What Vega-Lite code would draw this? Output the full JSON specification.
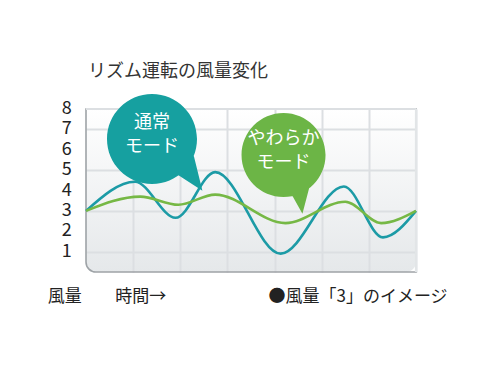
{
  "$schema": "https://vega.github.io/schema/vega-lite/v6.json",
  "width": 330,
  "height": 163,
  "autosize": "none",
  "padding": {"left": 86, "top": 109, "right": 74, "bottom": 96},
  "background": "white",
  "config": {
    "font": "Noto Sans CJK JP",
    "view": {
      "fill": {"gradient": "linear", "x1": 0, "y1": 0, "x2": 0, "y2": 1, "stops": [{"offset": 0, "color": "#ffffff"}, {"offset": 1, "color": "#e5e8ea"}]},
      "stroke": null,
      "cornerRadius": 10
    }
  },
  "title": {"text": "リズム運転の風量変化", "anchor": "start", "frame": "group", "fontSize": 18, "fontWeight": "normal", "color": "#333333", "offset": 13, "dx": 2},
  "datasets": {
    "curves": [
      {"mode": "通常", "t": 0, "v": 3},
      {"mode": "通常", "t": 1.04, "v": 4.43},
      {"mode": "通常", "t": 1.9, "v": 2.66},
      {"mode": "通常", "t": 2.74, "v": 4.9},
      {"mode": "通常", "t": 4.13, "v": 0.9},
      {"mode": "通常", "t": 5.47, "v": 4.2},
      {"mode": "通常", "t": 6.3, "v": 1.7},
      {"mode": "通常", "t": 7, "v": 3},
      {"mode": "やわらか", "t": 0, "v": 3},
      {"mode": "やわらか", "t": 1.15, "v": 3.7},
      {"mode": "やわらか", "t": 1.96, "v": 3.3},
      {"mode": "やわらか", "t": 2.74, "v": 3.8},
      {"mode": "やわらか", "t": 4.23, "v": 2.4},
      {"mode": "やわらか", "t": 5.5, "v": 3.45},
      {"mode": "やわらか", "t": 6.26, "v": 2.4},
      {"mode": "やわらか", "t": 7, "v": 3}
    ],
    "frame": [{"t0": 0, "t1": 7, "v0": 0, "v1": 8}],
    "levels": [
      {"t": -0.3, "v": 1}, {"t": -0.3, "v": 2}, {"t": -0.3, "v": 3}, {"t": -0.3, "v": 4},
      {"t": -0.3, "v": 5}, {"t": -0.3, "v": 6}, {"t": -0.3, "v": 7}, {"t": -0.3, "v": 8}
    ],
    "bubbles": [
      {"mode": "通常", "label": "通常\nモード", "t": 1.4, "v": 6.53},
      {"mode": "やわらか", "label": "やわらか\nモード", "t": 4.19, "v": 5.74}
    ],
    "notes": [
      {"label": "風量", "t": -0.81, "v": -1.23},
      {"label": "時間→", "t": 0.62, "v": -1.23},
      {"label": "●風量「3」のイメージ", "t": 3.87, "v": -1.23}
    ]
  },
  "layer": [
    {
      "data": {"name": "frame"},
      "mark": {"type": "rect", "fill": null, "stroke": "#9ea3a7", "strokeWidth": 1.6, "cornerRadiusBottomLeft": 10},
      "encoding": {
        "x": {"field": "t0", "type": "quantitative", "scale": {"domain": [0, 7], "nice": false},
              "axis": {"values": [1, 2, 3, 4, 5, 6, 7], "grid": true, "gridColor": "#dcdfe2", "gridWidth": 2, "labels": false, "ticks": false, "domain": false, "title": null}},
        "x2": {"field": "t1"},
        "y": {"field": "v0", "type": "quantitative", "scale": {"domain": [0, 8], "nice": false},
              "axis": {"values": [1, 2, 3, 4, 5, 6, 7, 8], "grid": true, "gridColor": "#dcdfe2", "gridWidth": 2, "ticks": false, "domain": false, "title": null, "labels": false}},
        "y2": {"field": "v1"}
      }
    },
    {
      "data": {"name": "frame"},
      "mark": {"type": "rule", "color": "#dcdfe2", "strokeWidth": 2.2},
      "encoding": {"x": {"field": "t0", "type": "quantitative"}, "x2": {"field": "t1"}, "y": {"field": "v1", "type": "quantitative"}}
    },
    {
      "data": {"name": "frame"},
      "mark": {"type": "rule", "color": "#e2e5e7", "strokeWidth": 2.2},
      "encoding": {"x": {"field": "t1", "type": "quantitative"}, "y": {"field": "v0", "type": "quantitative"}, "y2": {"field": "v1"}}
    },
    {
      "data": {"name": "levels"},
      "mark": {"type": "text", "color": "#222222", "fontSize": 18, "align": "right", "baseline": "middle"},
      "encoding": {"x": {"field": "t", "type": "quantitative"}, "y": {"field": "v", "type": "quantitative"}, "text": {"field": "v", "type": "quantitative"}}
    },
    {
      "data": {"name": "curves"},
      "mark": {"type": "line", "interpolate": "monotone", "strokeWidth": 2.6},
      "encoding": {
        "x": {"field": "t", "type": "quantitative"},
        "y": {"field": "v", "type": "quantitative"},
        "color": {"field": "mode", "type": "nominal", "scale": {"domain": ["通常", "やわらか"], "range": ["#1c9ba6", "#76b845"]}, "legend": null},
        "order": {"field": "mode", "sort": "descending"}
      }
    },
    {
      "data": {"name": "bubbles"},
      "transform": [{"filter": "datum.mode === '通常'"}],
      "mark": {"type": "point", "filled": true, "opacity": 1, "size": 8100, "color": "#16a0a0",
               "shape": "M -1 0 A 1 1 0 1 1 1 0 A 1 1 0 1 1 -1 0 Z M 0.93 0.38 L 1.12 1.15 L 0.58 0.8 Z"},
      "encoding": {"x": {"field": "t", "type": "quantitative"}, "y": {"field": "v", "type": "quantitative"}}
    },
    {
      "data": {"name": "bubbles"},
      "transform": [{"filter": "datum.mode === 'やわらか'"}],
      "mark": {"type": "point", "filled": true, "opacity": 1, "size": 7056, "color": "#6cb546",
               "shape": "M -1 0 A 1 1 0 1 1 1 0 A 1 1 0 1 1 -1 0 Z M 0.62 0.75 L 0.45 1.4 L 0.2 0.95 Z"},
      "encoding": {"x": {"field": "t", "type": "quantitative"}, "y": {"field": "v", "type": "quantitative"}}
    },
    {
      "data": {"name": "bubbles"},
      "mark": {"type": "text", "color": "white", "fontSize": 18, "lineBreak": "\n", "lineHeight": 24, "align": "center", "baseline": "middle", "dy": -16},
      "encoding": {"x": {"field": "t", "type": "quantitative"}, "y": {"field": "v", "type": "quantitative"}, "text": {"field": "label"}}
    },
    {
      "data": {"name": "notes"},
      "mark": {"type": "text", "color": "#222222", "fontSize": 17, "align": "left", "baseline": "middle"},
      "encoding": {"x": {"field": "t", "type": "quantitative"}, "y": {"field": "v", "type": "quantitative"}, "text": {"field": "label"}}
    }
  ]
}
